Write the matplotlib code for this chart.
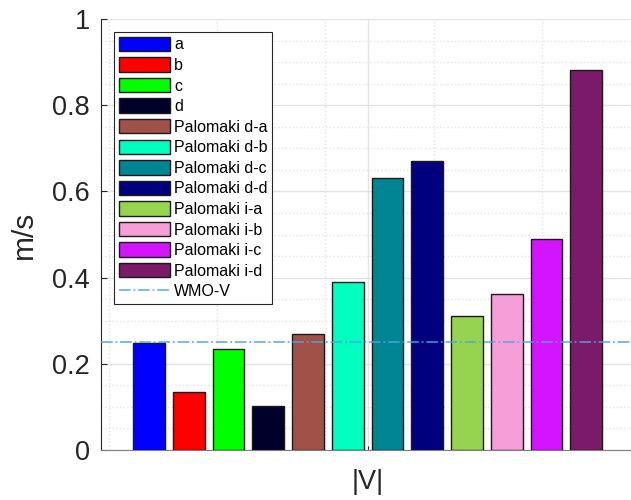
import numpy as np
import matplotlib.pyplot as plt
from matplotlib.ticker import MultipleLocator, FixedLocator

plt.rcParams['font.family'] = ['Liberation Sans', 'DejaVu Sans']

# Data
labels = ['a', 'b', 'c', 'd',
          'Palomaki d-a', 'Palomaki d-b', 'Palomaki d-c', 'Palomaki d-d',
          'Palomaki i-a', 'Palomaki i-b', 'Palomaki i-c', 'Palomaki i-d']
values = [0.249, 0.134, 0.234, 0.101,
          0.270, 0.390, 0.631, 0.671,
          0.310, 0.362, 0.490, 0.882]
colors = ['#0000ff', '#ff0000', '#00ff00', '#00002b',
          '#a05248', '#00ffc0', '#008594', '#00007e',
          '#96d44f', '#f59ed8', '#d514ff', '#7a1a68']
wmo_v = 0.25
group_label = '|V|'

fig = plt.figure(figsize=(6.31, 5.0), dpi=100)
ax = fig.add_axes([101 / 631, 50 / 500, 533 / 631, 431 / 500])

x = np.arange(len(values))
handles = []
for i in range(len(values)):
    b = ax.bar(x[i], values[i], width=0.8, color=colors[i], edgecolor='#1a1a1a',
               linewidth=1.0, label=labels[i], zorder=3)
    handles.append(b)
wmo = ax.axhline(wmo_v, color='#4da6e0', linestyle='-.', linewidth=1.3,
                 alpha=0.8, label='WMO-V', zorder=4)

ax.set_xlim(-1.206, 12.2)
ax.set_ylim(0, 1)
ax.set_xticks([x.mean()])
ax.set_xticklabels([group_label])
ax.xaxis.set_minor_locator(FixedLocator(np.arange(-1.0, 12.2, 2.72)))
ax.set_yticks(np.arange(0, 1.01, 0.2))
ax.set_yticklabels(['0', '0.2', '0.4', '0.6', '0.8', '1'])
ax.yaxis.set_minor_locator(MultipleLocator(0.05))

ax.grid(True, which='major', color='#e3e3e3', linewidth=1.0, zorder=0)
ax.grid(True, which='minor', color='#e3e3e3', linestyle=':', linewidth=1.0, zorder=0)
ax.set_axisbelow(True)

ax.tick_params(axis='both', which='major', direction='in', length=4,
               labelsize=19.5, colors='#262626', pad=8)
ax.tick_params(axis='both', which='minor', length=0)
ax.tick_params(axis='x', which='major', length=3, pad=14)
for s in ['top', 'right']:
    ax.spines[s].set_visible(False)
ax.spines['left'].set_color('#262626')
ax.spines['bottom'].set_color('#7f7f7f')

ax.set_ylabel('m/s', fontsize=21.5, color='#262626', labelpad=10)

leg = ax.legend(handles + [wmo], labels + ['WMO-V'], loc='upper left',
                bbox_to_anchor=(13 / 533, 1 - 13 / 431), borderaxespad=0,
                fontsize=11.5, handlelength=3.2, handleheight=1.0,
                handletextpad=0.25, labelspacing=0.31, borderpad=0.3,
                fancybox=False, framealpha=1, edgecolor='#262626')
leg.get_frame().set_linewidth(0.8)

fig.savefig('out.png', dpi=100)
